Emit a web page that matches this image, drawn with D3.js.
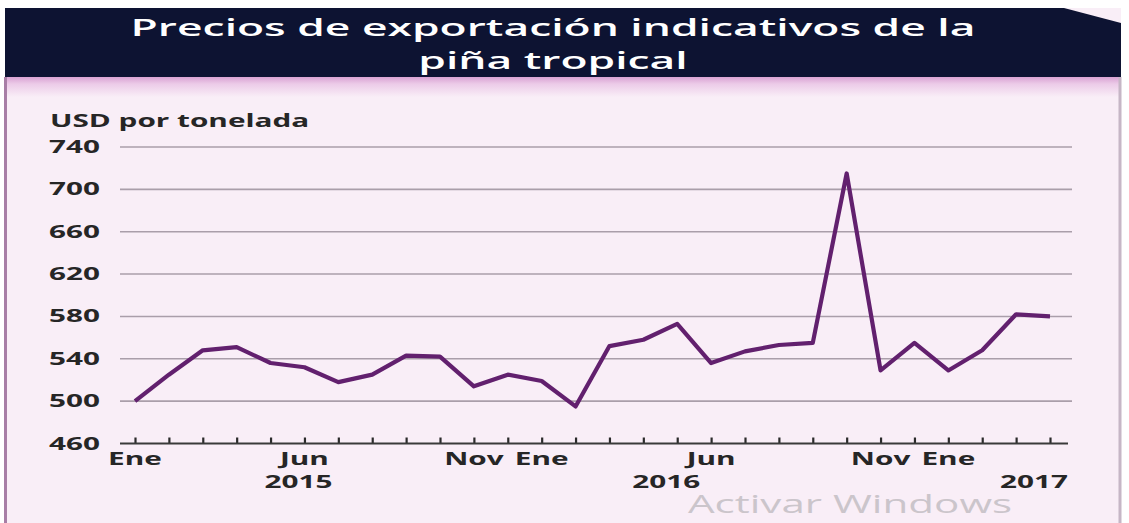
<!DOCTYPE html>
<html lang="es">
<head>
<meta charset="utf-8">
<script src="https://cdn.jsdelivr.net/npm/d3@7"></script>
<style>
  html, body { margin: 0; padding: 0; background: #ffffff; }
  svg { display: block; }
  text { font-family: "Open Sans", "DejaVu Sans", sans-serif; }
</style>
</head>
<body>
<svg id="chart" width="1129" height="523"></svg>
<script>
// Monthly indicative export price, Jan 2015 – Apr 2017 (USD per tonne)
const months = [
  "2015-01","2015-02","2015-03","2015-04","2015-05","2015-06","2015-07",
  "2015-08","2015-09","2015-10","2015-11","2015-12","2016-01","2016-02",
  "2016-03","2016-04","2016-05","2016-06","2016-07","2016-08","2016-09",
  "2016-10","2016-11","2016-12","2017-01","2017-02","2017-03","2017-04"
];
const prices = [
  500, 525, 548, 551, 536, 532, 518, 525, 543, 542, 514, 525, 519, 495,
  552, 558, 573, 536, 547, 553, 555, 715, 529, 555, 529, 548, 582, 580
];
const yTicks = [460, 500, 540, 580, 620, 660, 700, 740];
const monthLabelKeys = ["2015-01","2015-06","2015-11","2016-01","2016-06","2016-11","2017-01"];
const monthLabelTexts = ["Ene","Jun","Nov","Ene","Jun","Nov","Ene"];
const yearLabels = ["2015", "2016", "2017"];
const titleLines = ["Precios de exportación indicativos de la", "piña tropical"];
const unitLabel = "USD por tonelada";
const watermark = "Activar Windows";

const svg = d3.select("#chart");
const W = 1129, H = 523;

// Horizontal stretch used for the axis lettering
const STRETCH = 1.75;

// ---- frame ----
svg.append("rect").attr("x", 0).attr("y", 0).attr("width", W).attr("height", H).attr("fill", "#ffffff");
svg.append("rect").attr("x", 5).attr("y", 8).attr("width", 1116).attr("height", H - 8).attr("fill", "#f9eef7");

const fade = svg.append("defs").append("linearGradient")
  .attr("id", "stripe").attr("x1", 0).attr("y1", 0).attr("x2", 0).attr("y2", 1);
fade.append("stop").attr("offset", 0).attr("stop-color", "#d9a2d3");
fade.append("stop").attr("offset", 0.35).attr("stop-color", "#eccbe8");
fade.append("stop").attr("offset", 1).attr("stop-color", "#f9eef7");
svg.append("rect").attr("x", 5).attr("y", 77).attr("width", 1116).attr("height", 20).attr("fill", "url(#stripe)");

// title band with folded corner
svg.append("path")
  .attr("d", "M5,8 L1064,8 L1121,23 L1121,77 L5,77 Z")
  .attr("fill", "#0d1332");

svg.append("line").attr("x1", 5.5).attr("x2", 5.5).attr("y1", 77).attr("y2", H)
  .attr("stroke", "#a87ea6").attr("stroke-width", 3);
svg.append("line").attr("x1", 1120).attr("x2", 1120).attr("y1", 77).attr("y2", H)
  .attr("stroke", "#c6b6c6").attr("stroke-width", 3);

function stretchedText(g, x, y, str, opts) {
  return g.append("text")
    .attr("transform", `translate(${x},${y}) scale(${opts.sx || STRETCH},1)`)
    .attr("text-anchor", opts.anchor || "start")
    .attr("font-size", opts.size)
    .attr("font-weight", opts.weight || 700)
    .attr("fill", opts.fill || "#262626")
    .text(str);
}

// ---- title ----
const titleG = svg.append("g");
titleLines.forEach((line, i) => {
  stretchedText(titleG, 553, 36 + i * 33, line,
    { anchor: "middle", size: 24, weight: 600, fill: "#ffffff", sx: 1.85 });
});

// ---- scales ----
const x = d3.scalePoint().domain(months).range([135, 1050]);
const y = d3.scaleLinear().domain([460, 740]).range([443.5, 147]);
const plotLeft = 120, plotRight = 1072;

// ---- gridlines ----
svg.append("g")
  .selectAll("line")
  .data(yTicks.filter(v => v !== 460))
  .join("line")
  .attr("x1", plotLeft).attr("x2", plotRight)
  .attr("y1", d => y(d)).attr("y2", d => y(d))
  .attr("stroke", "#aa9eaa").attr("stroke-width", 1.6);

// ---- y axis labels ----
const yLab = svg.append("g");
yTicks.forEach(v => {
  stretchedText(yLab, 100, y(v) + 6, String(v), { anchor: "end", size: 17 });
});
stretchedText(yLab, 50, 127, unitLabel, { size: 17 });

// ---- x axis ----
const xAxis = d3.axisTop(x).tickSize(6).tickFormat("").tickSizeOuter(0);
const xg = svg.append("g").attr("transform", `translate(0,${y(460)})`).call(xAxis);
xg.select(".domain").remove();
xg.selectAll(".tick line").attr("stroke", "#2a2a2a").attr("stroke-width", 2.2);
svg.append("line")
  .attr("x1", plotLeft).attr("x2", 1068)
  .attr("y1", y(460)).attr("y2", y(460))
  .attr("stroke", "#3a3a3a").attr("stroke-width", 1.8);

const xLab = svg.append("g");
monthLabelKeys.forEach((k, i) => {
  stretchedText(xLab, x(k), 465, monthLabelTexts[i], { anchor: "middle", size: 17 });
});
// year labels sit under the first half of each year's months
const yearX = [x("2015-06") - 6, x("2016-05") - 11, 1068];
const yearAnchor = ["middle", "middle", "end"];
yearLabels.forEach((t, i) => {
  stretchedText(xLab, yearX[i], 488, t, { anchor: yearAnchor[i], size: 17 });
});

// ---- price line ----
const line = d3.line()
  .x((d, i) => x(months[i]))
  .y(d => y(d))
  .curve(d3.curveLinear);
svg.append("path")
  .datum(prices)
  .attr("d", line)
  .attr("fill", "none")
  .attr("stroke", "#62206e")
  .attr("stroke-width", 4.2)
  .attr("stroke-linejoin", "round");

// ---- system overlay text ----
stretchedText(svg, 850, 513, watermark,
  { anchor: "middle", size: 26, weight: 400, fill: "#cbc5cb", sx: 1.62 });
</script>
</body>
</html>
